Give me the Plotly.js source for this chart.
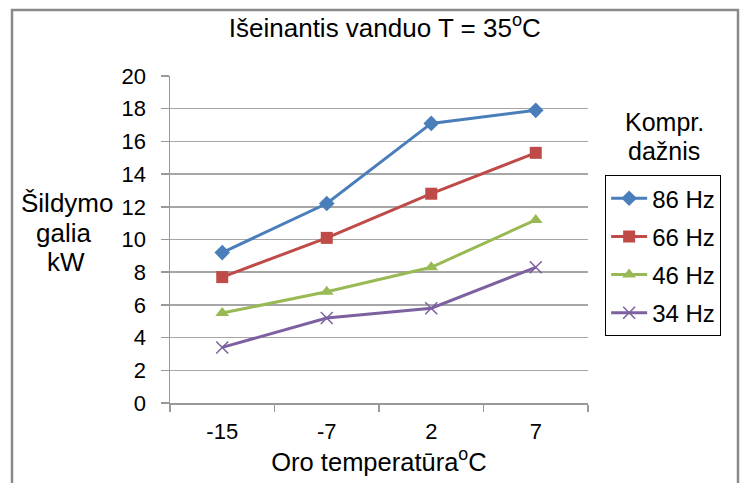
<!DOCTYPE html>
<html>
<head>
<meta charset="utf-8">
<script src="https://cdn.plot.ly/plotly-3.0.1.min.js"></script>
<style>html,body{margin:0;padding:0;background:#fff}</style>
</head>
<body>
<div id="chart" style="width:740px;height:483px"></div>
<script>
const categories = ["-15", "-7", "2", "7"];
const seriesNames = ["86 Hz", "66 Hz", "46 Hz", "34 Hz"];
const hz86 = [9.2, 12.2, 17.1, 17.9];
const hz66 = [7.7, 10.1, 12.8, 15.3];
const hz46 = [5.5, 6.8, 8.3, 11.2];
const hz34 = [3.4, 5.2, 5.8, 8.3];
const yTicks = [0, 2, 4, 6, 8, 10, 12, 14, 16, 18, 20];

const colors = ["#4a7ebb", "#be4b48", "#98b954", "#7d60a0"];
const symbols = ["diamond", "square", "triangle-up", "x-thin-open"];
const sizes = [12, 12, 12, 12];
const values = [hz86, hz66, hz46, hz34];

const traces = values.map((v, i) => ({
  type: "scatter",
  mode: "lines+markers",
  x: categories,
  y: v,
  name: seriesNames[i],
  legendgroup: "g" + i,
  line: {color: colors[i], width: 3},
  marker: {symbol: symbols[i], size: sizes[i], color: colors[i],
           line: {color: colors[i], width: i === 3 ? 1.5 : 0}}
}));

const font = "Liberation Sans, Arial, sans-serif";
const txt = (text, x, y, size) => ({text: text, xref: "paper", yref: "paper", x: x, y: y,
  xanchor: "center", yanchor: "middle", showarrow: false, align: "center",
  font: {size: size, family: font, color: "#000"}});
const py = (pix) => (403 - pix) / 327;
const px = (pix) => (pix - 170) / 418;

const layout = {
  width: 740, height: 483,
  margin: {l: 170, r: 152, t: 76, b: 80},
  paper_bgcolor: "#fff", plot_bgcolor: "#fff",
  font: {family: font, color: "#000"},
  title: {text: "Išeinantis vanduo T = 35<sup>o</sup>C", font: {size: 26, family: font, color: "#000"},
          x: 0.52, xanchor: "center", y: 0.942, yanchor: "middle"},
  showlegend: true,
  legend: {x: 1.041, xanchor: "left", y: 0.697, yanchor: "top",
           bordercolor: "#000", borderwidth: 1, bgcolor: "#fff",
           font: {size: 24, family: font, color: "#000"},
           traceorder: "grouped", tracegroupgap: 4, itemwidth: 36},
  xaxis: {type: "category", tickson: "boundaries", ticks: "outside", ticklen: 7,
          tickcolor: "#999", tickwidth: 1.5, showline: true, linecolor: "#999", linewidth: 1.5,
          showgrid: false, zeroline: false, tickfont: {size: 22, family: font},
          ticklabelstandoff: 8,
          title: {text: "Oro temperatūra<sup>o</sup>C", font: {size: 25.5, family: font}, standoff: 6},
          range: [-0.5, 3.5], fixedrange: true},
  yaxis: {range: [0, 20], tickvals: yTicks, ticktext: yTicks.map(String),
          ticks: "outside", ticklen: 8, tickcolor: "#999", tickwidth: 1.5,
          showline: true, linecolor: "#999", linewidth: 1.5, ticklabelstandoff: 10,
          showgrid: true, gridcolor: "#a6a6a6", gridwidth: 1.5, zeroline: false,
          tickfont: {size: 22, family: font}, fixedrange: true},
  annotations: [
    txt("Šildymo", px(67), py(203), 26),
    txt("galia", px(63), py(233), 26),
    txt("kW", px(66), py(262), 26),
    txt("Kompr.", px(664), py(122), 25),
    txt("dažnis", px(664), py(151), 25)
  ],
  shapes: [
    {type: "rect", xref: "paper", yref: "paper", x0: px(12), x1: px(738), y0: py(500), y1: py(10),
     line: {color: "#8a8a8a", width: 2.5}, fillcolor: "rgba(0,0,0,0)", layer: "below"}
  ]
};

Plotly.newPlot("chart", traces, layout, {displayModeBar: false, staticPlot: true});
</script>
</body>
</html>
